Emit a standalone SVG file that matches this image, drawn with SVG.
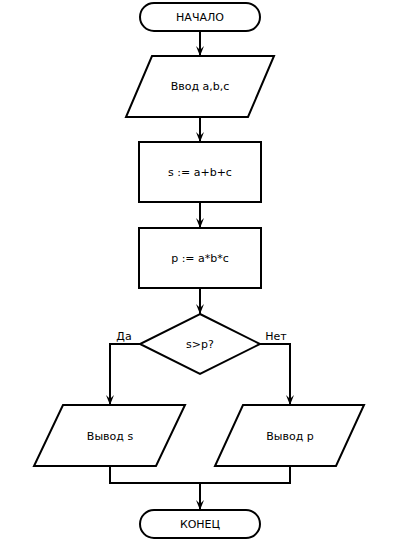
<svg xmlns="http://www.w3.org/2000/svg" width="400" height="542" viewBox="0 0 400 542">
<style>
.s{fill:#fff;stroke:#000;stroke-width:2}
.c{fill:none;stroke:#000;stroke-width:2}
text{font-family:"DejaVu Sans",Verdana,sans-serif;font-size:11px;fill:#000;text-anchor:middle;dominant-baseline:central}
</style>
<defs>
<marker id="a" viewBox="0 0 10 10" refX="10" refY="5" markerWidth="10" markerHeight="8" markerUnits="userSpaceOnUse" orient="auto" preserveAspectRatio="none">
<path d="M0,0 L10,5 L0,10 L4,5 Z" fill="#000"/>
</marker>
</defs>
<rect width="400" height="542" fill="#fff"/>
<g id="connectors">
<path class="c" d="M200,31 V56" marker-end="url(#a)"/>
<path class="c" d="M200,117 V142" marker-end="url(#a)"/>
<path class="c" d="M200,202 V228" marker-end="url(#a)"/>
<path class="c" d="M200,288 V314" marker-end="url(#a)"/>
<path class="c" d="M140,344 H110 V405" marker-end="url(#a)"/>
<path class="c" d="M260,344 H290 V405" marker-end="url(#a)"/>
<path class="c" d="M110,466 V483 H290 V466"/>
<path class="c" d="M200,483 V510" marker-end="url(#a)"/>
<text x="124" y="336">Да</text>
<text x="276" y="336">Нет</text>
</g>
<g id="start">
<rect class="s" x="140" y="3" width="120" height="28" rx="14"/>
<text x="200" y="17">НАЧАЛО</text>
</g>
<g id="input">
<polygon class="s" points="152,56 274,56 248,117 126,117"/>
<text x="200" y="86">Ввод a,b,c</text>
</g>
<g id="calc_s">
<rect class="s" x="139" y="142" width="122" height="60"/>
<text x="200" y="172">s := a+b+c</text>
</g>
<g id="calc_p">
<rect class="s" x="139" y="228" width="122" height="60"/>
<text x="200" y="258">p := a*b*c</text>
</g>
<g id="decision">
<polygon class="s" points="200,314 260,344 200,374 140,344"/>
<text x="200" y="344">s&gt;p?</text>
</g>
<g id="out_s">
<polygon class="s" points="63,405 185,405 156,466 34,466"/>
<text x="110" y="436">Вывод s</text>
</g>
<g id="out_p">
<polygon class="s" points="243,405 364,405 336,466 215,466"/>
<text x="290" y="436">Вывод p</text>
</g>
<g id="end">
<rect class="s" x="140" y="510" width="120" height="28" rx="14"/>
<text x="200" y="524">КОНЕЦ</text>
</g>
</svg>
